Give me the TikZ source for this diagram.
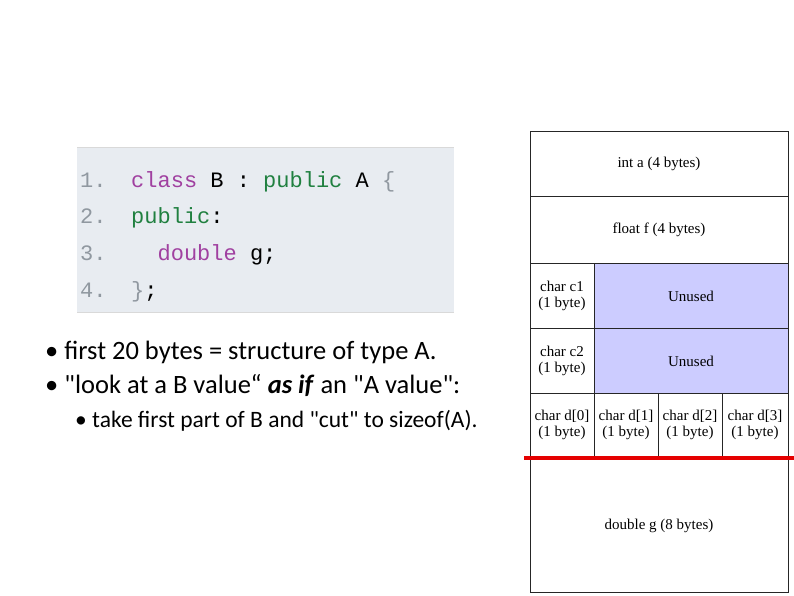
\documentclass[tikz,border=0pt]{standalone}
\usepackage{fontspec}
\setmainfont{Liberation Serif}
\newfontfamily\codefont{Liberation Mono}
\newfontfamily\bodyfont{Carlito}
\begin{document}
\begin{tikzpicture}[x=1pt,y=-1pt,
  cell/.style={draw=black!85,line width=1pt},
  lbl/.style={font=\fontsize{15}{16}\selectfont,align=center,inner sep=0pt},
  code/.style={font=\codefont\fontsize{22}{24}\selectfont,anchor=base west,inner sep=0pt},
  bul/.style={font=\bodyfont\fontsize{26.5}{30}\selectfont,anchor=base west,inner sep=0pt}]
\useasboundingbox (0,0) rectangle (794,595);
\definecolor{codebg}{HTML}{E8ECF1}
\definecolor{kwp}{HTML}{A040A0}
\definecolor{kwg}{HTML}{208040}
\definecolor{numg}{HTML}{9098A0}
\definecolor{unused}{HTML}{CCCCFF}
% code box
\fill[codebg] (77,147) rectangle (454,312);
\draw[black!15] (77,147) -- (454,147) (77,312) -- (454,312);
\node[code,text=numg] (n1) at (80,187) {1.};
\node[code,text=numg] (n2) at (80,223) {2.};
\node[code,text=numg] (n3) at (80,260) {3.};
\node[code,text=numg] (n4) at (80,297) {4.};
\node[code] (l1) at (131,187) {\textcolor{kwp}{class} B : \textcolor{kwg}{public} A \textcolor{numg}{\{}};
\node[code] (l2) at (131,223) {\textcolor{kwg}{public}:};
\node[code] (l3) at (131,260) {\ \ \textcolor{kwp}{double} g;};
\node[code] (l4) at (131,297) {\textcolor{numg}{\}};};
% bullets
\node[bul] (b1) at (45,359) {• first 20 bytes = structure of type A.};
\node[bul] (b2) at (45,393) {• "look at a B value“ \textit{\textbf{as if}} an "A value":};
\node[bul,font=\bodyfont\fontsize{23.5}{26}\selectfont] (b3) at (75,427) {• take first part of B and "cut" to sizeof(A).};
% memory layout
\fill[unused] (594,263) rectangle (788,393);
\draw[cell] (530,131) rectangle (788,592);
\draw[cell] (530,196) -- (788,196) (530,263) -- (788,263) (530,328) -- (788,328) (530,393) -- (788,393) (530,456) -- (788,456);
\draw[cell] (594,263) -- (594,456) (658,393) -- (658,456) (722,393) -- (722,456);
\node[lbl] (a) at (659,164) {int a (4 bytes)};
\node[lbl] (f) at (659,230) {float f (4 bytes)};
\node[lbl] (c1) at (562,296) {char c1\\(1 byte)};
\node[lbl] (u1) at (691,296) {Unused};
\node[lbl] (c2) at (562,361) {char c2\\(1 byte)};
\node[lbl] (u2) at (691,361) {Unused};
\node[lbl] (d0) at (562,425) {char d[0]\\(1 byte)};
\node[lbl] (d1) at (626,425) {char d[1]\\(1 byte)};
\node[lbl] (d2) at (690,425) {char d[2]\\(1 byte)};
\node[lbl] (d3) at (755,425) {char d[3]\\(1 byte)};
\node[lbl] (g) at (659,526) {double g (8 bytes)};
\draw[red!90!black,line width=4pt] (524,458) -- (794,458);
\end{tikzpicture}
\end{document}
